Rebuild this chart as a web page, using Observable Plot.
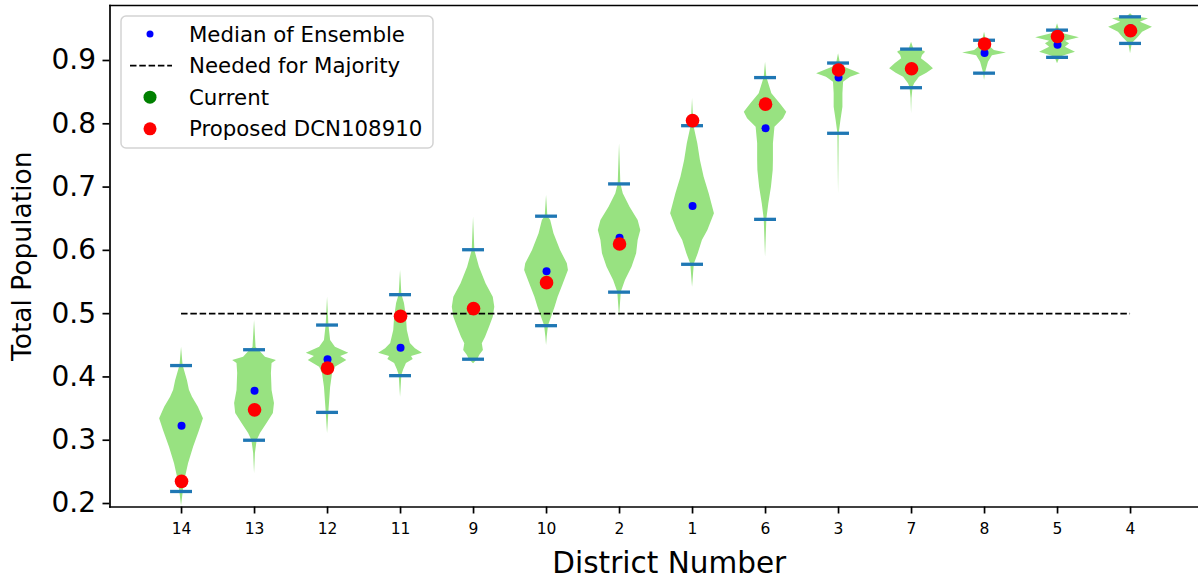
<!DOCTYPE html>
<html>
<head>
<meta charset="utf-8">
<script src="https://cdn.jsdelivr.net/npm/d3@7"></script>
<script src="https://cdn.jsdelivr.net/npm/@observablehq/plot@0.6"></script>
<style>
  html, body { margin: 0; padding: 0; background: white; overflow: hidden; }
  #wrap { position: relative; width: 1198px; height: 582px; }
  #legend { position: absolute; left: 120px; top: 15px; }
</style>
</head>
<body>
<div id="wrap"></div>
<script>
// ---- data ----
const districts = ["14","13","12","11","9","10","2","1","6","3","7","8","5","4"];
const capMin   = [0.219,0.300,0.344,0.402,0.428,0.481,0.534,0.578,0.649,0.785,0.857,0.880,0.905,0.927];
const capMax   = [0.418,0.443,0.482,0.530,0.601,0.654,0.705,0.797,0.873,0.896,0.918,0.932,0.948,0.969];
const medians  = [0.323,0.378,0.428,0.446,0.509,0.567,0.620,0.670,0.793,0.873,0.887,0.912,0.925,0.951];
const proposed = [0.235,0.348,0.414,0.496,0.508,0.549,0.610,0.805,0.831,0.885,0.887,0.926,0.938,0.947];
const majority = 0.5;
const yTicks = [0.2,0.3,0.4,0.5,0.6,0.7,0.8,0.9];

// violin profiles: [value, relative density]
const profile14 = [[0.447,0.0],[0.418,0.07],[0.394,0.27],[0.379,0.36],[0.368,0.5],[0.352,0.77],[0.334,1.0],[0.315,0.82],[0.289,0.55],[0.263,0.32],[0.241,0.18],[0.219,0.08],[0.196,0.0]];
const profile13 = [[0.489,0.0],[0.4465,0.07],[0.4386,0.3],[0.4312,0.5],[0.426,1.0],[0.4213,0.8],[0.4055,0.77],[0.3786,0.8],[0.3581,0.91],[0.3423,0.86],[0.3265,0.57],[0.3107,0.27],[0.2996,0.12],[0.279,0.04],[0.2475,0.0]];
const profile12 = [[0.526,0.0],[0.4829,0.06],[0.4576,0.14],[0.447,0.36],[0.4376,0.97],[0.4323,0.6],[0.426,0.88],[0.4155,0.36],[0.4055,0.23],[0.3833,0.14],[0.3438,0.06],[0.3107,0.0]];
const profile11 = [[0.568,0.0],[0.5303,0.06],[0.516,0.18],[0.4945,0.27],[0.4734,0.31],[0.4528,0.45],[0.4445,0.68],[0.4376,1.0],[0.4323,0.5],[0.4276,0.58],[0.4213,0.27],[0.4108,0.14],[0.4023,0.06],[0.368,0.0]];
const profile9  = [[0.6524,0.0],[0.5998,0.06],[0.5734,0.27],[0.5472,0.57],[0.526,0.9],[0.5102,0.97],[0.4944,0.9],[0.4786,0.73],[0.4628,0.55],[0.4524,0.4],[0.4418,0.45],[0.4339,0.28],[0.428,0.2],[0.4208,0.0]];
const profile10 = [[0.6867,0.0],[0.6535,0.06],[0.6472,0.19],[0.6262,0.34],[0.5998,0.64],[0.5788,0.95],[0.5682,1.0],[0.5472,0.77],[0.526,0.53],[0.5102,0.39],[0.4944,0.23],[0.4808,0.09],[0.4628,0.03],[0.4497,0.0]];
const profile2  = [[0.7684,0.0],[0.7051,0.06],[0.6894,0.17],[0.6683,0.48],[0.6472,0.85],[0.6314,0.97],[0.6156,0.85],[0.5946,0.78],[0.5734,0.57],[0.5524,0.27],[0.534,0.08],[0.4944,0.0]];
const profile1  = [[0.84,0.0],[0.7968,0.06],[0.7684,0.24],[0.742,0.36],[0.7156,0.53],[0.6894,0.76],[0.6578,1.0],[0.6314,0.7],[0.6156,0.45],[0.5946,0.26],[0.5782,0.08],[0.5419,0.0]];
const profile6  = [[0.8974,0.0],[0.8731,0.06],[0.8474,0.29],[0.8316,0.67],[0.8183,0.97],[0.8079,0.82],[0.7946,0.43],[0.7684,0.36],[0.742,0.36],[0.7262,0.35],[0.6998,0.27],[0.6736,0.15],[0.6493,0.06],[0.5893,0.0]];
const profile3  = [[0.9106,0.0],[0.8963,0.08],[0.8894,0.27],[0.8842,0.64],[0.879,1.0],[0.8737,0.55],[0.8657,0.23],[0.8474,0.2],[0.8262,0.2],[0.8052,0.11],[0.7847,0.03],[0.6894,0.0]];
const profile7  = [[0.929,0.0],[0.9185,0.1],[0.915,0.55],[0.9132,0.64],[0.908,0.5],[0.9027,0.45],[0.895,0.75],[0.887,1.0],[0.88,0.7],[0.8737,0.36],[0.8632,0.14],[0.8573,0.07],[0.84,0.02],[0.8158,0.0]];
const profile8  = [[0.9448,0.0],[0.9321,0.08],[0.9237,0.18],[0.9158,0.45],[0.9117,1.0],[0.9075,0.36],[0.8974,0.18],[0.88,0.04],[0.8684,0.0]];
const profile5  = [[0.958,0.0],[0.9479,0.09],[0.9422,0.27],[0.9358,1.0],[0.9306,0.36],[0.9264,0.55],[0.9211,0.36],[0.9132,0.82],[0.909,0.45],[0.9053,0.12],[0.8948,0.0]];
const profile4  = [[0.9738,0.0],[0.9695,0.14],[0.9659,0.82],[0.9606,0.45],[0.9527,1.0],[0.9448,0.55],[0.9369,0.36],[0.9269,0.08],[0.9106,0.0]];

const profiles = [profile14,profile13,profile12,profile11,profile9,profile10,profile2,profile1,profile6,profile3,profile7,profile8,profile5,profile4];

// ---- derived tables ----
const halfMax = 0.3;      // violin half width (x units) at max density
const capHalf = 0.15;
const violinRows = districts.flatMap((d, k) => profiles[k].map(([v, w]) => ({d, pos: k + 1, v, w})));
const capRows = districts.flatMap((d, k) => [{pos: k + 1, v: capMin[k]}, {pos: k + 1, v: capMax[k]}]);
const medRows = districts.map((d, k) => ({pos: k + 1, v: medians[k]}));
const propRows = districts.map((d, k) => ({pos: k + 1, v: proposed[k]}));

const left = 109.5, pxPerUnit = 73;
const chart = Plot.plot({
  width: 1198, height: 582,
  marginLeft: left, marginRight: 0, marginTop: 5, marginBottom: 75.5,
  x: {domain: [0.02, 0.02 + (1198 - left) / pxPerUnit]},
  y: {domain: [0.1945, 0.9869]},
  style: {fontFamily: "DejaVu Sans", background: "white", color: "black"},
  marks: [
    Plot.areaX(violinRows, {y: "v", x1: r => r.pos - r.w * halfMax, x2: r => r.pos + r.w * halfMax, z: "d", fill: "#98e281", curve: "linear"}),
    Plot.ruleY(capRows, {y: "v", x1: r => r.pos - capHalf, x2: r => r.pos + capHalf, stroke: "#1f77b4", strokeWidth: 3.3}),
    Plot.ruleY([majority], {x1: 1, x2: districts.length, stroke: "black", strokeWidth: 1.8, strokeDasharray: "6.5,2.8"}),
    Plot.dot(medRows, {x: "pos", y: "v", r: 4, fill: "blue"}),
    Plot.dot(propRows, {x: "pos", y: "v", r: 6.8, fill: "red"}),
    Plot.axisY({ticks: yTicks, tickFormat: d3.format(".1f"), tickSize: 7, tickPadding: 7, fontSize: 28, strokeWidth: 1.7, label: null}),
    Plot.axisX({ticks: districts.map((d, k) => k + 1), tickFormat: i => districts[i - 1], tickSize: 7, tickPadding: 9, fontSize: 15.5, strokeWidth: 1.7, label: null}),
    Plot.frame({anchor: "top", strokeWidth: 1.7}),
    Plot.frame({anchor: "bottom", strokeWidth: 1.7}),
    Plot.frame({anchor: "left", strokeWidth: 1.7}),
    Plot.text(["District Number"], {frameAnchor: "bottom", textAnchor: "middle", dy: 57, dx: 15, lineAnchor: "middle", fontSize: 29.5}),
    Plot.text(["Total Population"], {frameAnchor: "left", textAnchor: "middle", dx: -87.5, rotate: -90, lineAnchor: "middle", fontSize: 26.5})
  ]
});
const wrap = document.getElementById("wrap");
wrap.appendChild(chart);

// ---- legend (inside axes, upper left) ----
const legendItems = [
  {label: "Median of Ensemble", kind: "dot", color: "blue", r: 3.5},
  {label: "Needed for Majority", kind: "dash", color: "black"},
  {label: "Current", kind: "dot", color: "green", r: 6.5},
  {label: "Proposed DCN108910", kind: "dot", color: "red", r: 6.5}
];
const ns = "http://www.w3.org/2000/svg";
const lg = document.createElementNS(ns, "svg");
lg.setAttribute("id", "legend");
lg.setAttribute("width", 314); lg.setAttribute("height", 134);
const box = document.createElementNS(ns, "rect");
Object.entries({x: 1, y: 1, width: 312, height: 132, rx: 5, fill: "rgba(255,255,255,0.8)", stroke: "#d3d3d3", "stroke-width": 1.5}).forEach(([k, v]) => box.setAttribute(k, v));
lg.appendChild(box);
legendItems.forEach((it, i) => {
  const cy = 19 + i * 31.6;
  if (it.kind === "dot") {
    const c = document.createElementNS(ns, "circle");
    c.setAttribute("cx", 30); c.setAttribute("cy", cy); c.setAttribute("r", it.r); c.setAttribute("fill", it.color);
    lg.appendChild(c);
  } else {
    const l = document.createElementNS(ns, "line");
    Object.entries({x1: 10, x2: 52, y1: cy, y2: cy, stroke: it.color, "stroke-width": 1.8, "stroke-dasharray": "6.5,2.8"}).forEach(([k, v]) => l.setAttribute(k, v));
    lg.appendChild(l);
  }
  const t = document.createElementNS(ns, "text");
  t.setAttribute("x", 69); t.setAttribute("y", cy); t.setAttribute("dy", "0.36em");
  t.setAttribute("font-family", "DejaVu Sans"); t.setAttribute("font-size", 21.3); t.setAttribute("fill", "black");
  t.textContent = it.label;
  lg.appendChild(t);
});
wrap.appendChild(lg);
</script>
</body>
</html>
